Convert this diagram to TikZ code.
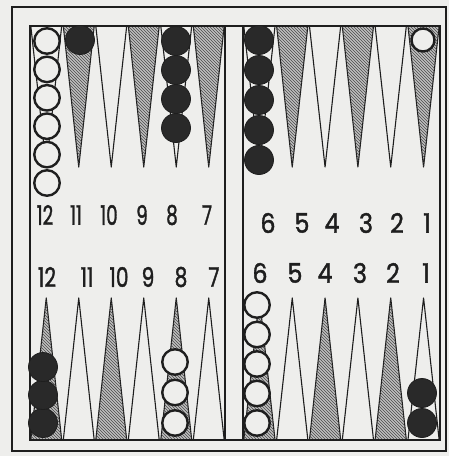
\documentclass[tikz,border=0pt]{standalone}
\usepackage{fontspec}
\setmainfont{Poppins}
\newfontfamily\digitfont{Poppins}[FakeBold=1.6]
\usetikzlibrary{patterns}
\definecolor{paper}{RGB}{238,238,236}
\definecolor{ink}{RGB}{30,30,30}
\begin{document}
\begin{tikzpicture}[x=1pt,y=-1pt,
  frame/.style={draw=ink,line width=1.8pt},
  pt/.style={draw=ink,line width=1.1pt,line join=round},
  hatch/.style={pt,fill=gray!50,postaction={pattern=north west lines,pattern color=ink!80}},
  wc/.style={circle,draw=ink,line width=2.4pt,fill=paper,minimum size=25.5pt,inner sep=0pt},
  bc/.style={circle,draw=ink,line width=0.8pt,fill=ink!95,minimum size=29pt,inner sep=0pt},
  lbl/.style={inner sep=0pt,text=ink,font=\digitfont\fontsize{27}{27}\selectfont}]
\useasboundingbox (0,0) rectangle (449,456);
\fill[paper] (0,0) rectangle (449,456);
% outer frame
\draw[frame] (12,7) rectangle (446,451);
% points
\foreach \i in {0,...,5}{
  \pgfmathsetmacro{\xa}{30+32.5*\i+0.8}
  \pgfmathsetmacro{\xb}{30+32.5*(\i+1)-0.8}
  \pgfmathsetmacro{\xc}{30+32.5*(\i+0.5)}
  \pgfmathsetmacro{\ya}{243+32.83*\i+0.8}
  \pgfmathsetmacro{\yb}{243+32.83*(\i+1)-0.8}
  \pgfmathsetmacro{\yc}{243+32.83*(\i+0.5)}
  \ifodd\i
    \draw[hatch] (\xa,26) -- (\xc,167) -- (\xb,26);
    \draw[hatch] (\ya,26) -- (\yc,167) -- (\yb,26);
    \draw[pt] (\xa,440) -- (\xc,298) -- (\xb,440);
    \draw[pt] (\ya,440) -- (\yc,298) -- (\yb,440);
  \else
    \draw[pt] (\xa,26) -- (\xc,167) -- (\xb,26);
    \draw[pt] (\ya,26) -- (\yc,167) -- (\yb,26);
    \draw[hatch] (\xa,440) -- (\xc,298) -- (\xb,440);
    \draw[hatch] (\ya,440) -- (\yc,298) -- (\yb,440);
  \fi
}
% inner board and bar
\draw[frame] (30,26) rectangle (440,440);
\draw[frame] (225,26) -- (225,440);
\draw[frame] (243,26) -- (243,440);
% top-left checkers
\foreach \k in {0,...,5}{ \node[wc] (tw12-\k) at (47,{41+28.4*\k}) {}; }
\node[bc] (tb11) at (80,40) {};
\foreach \k in {0,...,3}{ \node[bc] (tb8-\k) at (176,{41+29*\k}) {}; }
% top-right checkers
\foreach \k in {0,...,4}{ \node[bc] (tb6-\k) at (259,{40+30*\k}) {}; }
\node[wc,minimum size=23pt] (tw1) at (423,40) {};
% bottom-left checkers
\foreach \k in {0,...,2}{ \node[bc] (bb12-\k) at (43,{423-28*\k}) {}; }
\foreach \k in {0,...,2}{ \node[wc] (bw8-\k) at (175,{423-30.5*\k}) {}; }
% bottom-right checkers
\foreach \k in {0,...,4}{ \node[wc] (bw6-\k) at (257,{423-29.5*\k}) {}; }
\foreach \k in {0,...,1}{ \node[bc] (bb1-\k) at (422,{423-30*\k}) {}; }
% labels
\foreach \t/\x [count=\n] in {12/45,11/76,10/109,9/142,8/172,7/207}{
  \node[lbl] (tl\n) at (\x,215) {\scalebox{0.68}[1]{\t}}; }
\foreach \t/\x [count=\n] in {6/268,5/302,4/332,3/366,2/397,1/427}{
  \node[lbl] (tr\n) at (\x,223) {\scalebox{0.88}[1]{\t}}; }
\foreach \t/\x [count=\n] in {12/47,11/87,10/119,9/148,8/181,7/214}{
  \node[lbl] (bl\n) at (\x,277) {\scalebox{0.75}[1]{\t}}; }
\foreach \t/\x [count=\n] in {6/260,5/295,4/325,3/360,2/393,1/426}{
  \node[lbl] (br\n) at (\x,273) {\scalebox{0.88}[1]{\t}}; }
\end{tikzpicture}
\end{document}
